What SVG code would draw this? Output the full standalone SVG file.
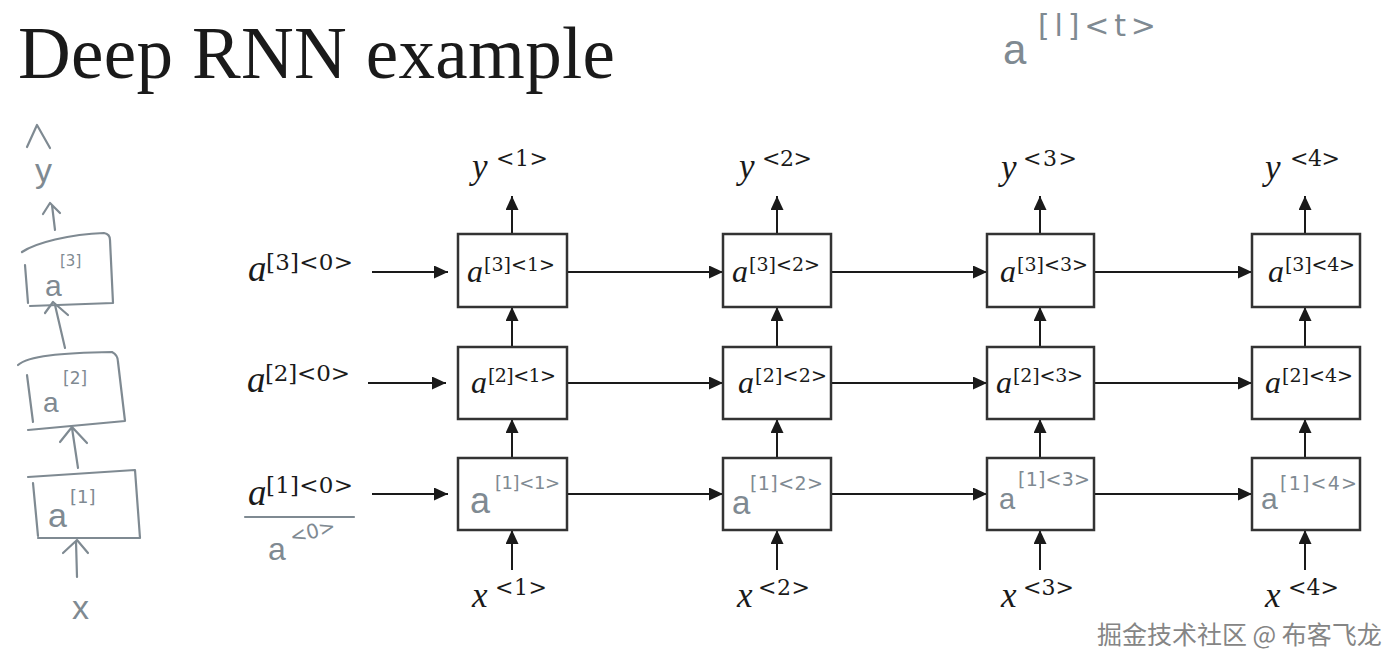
<svg xmlns="http://www.w3.org/2000/svg" width="1400" height="668" viewBox="0 0 1400 668">
<defs>
<marker id="ah" markerUnits="userSpaceOnUse" markerWidth="14" markerHeight="13" refX="14" refY="6.5" orient="auto">
<path d="M0,0 L14,6.5 L0,13 z" fill="#1a1a1a"/>
</marker>
<style>
.box{fill:#fff;stroke:#333;stroke-width:2.5}
.conn{stroke:#1a1a1a;stroke-width:2;fill:none;marker-end:url(#ah)}
.b{font-family:"Liberation Serif",serif;font-style:italic;font-size:32px;fill:#1a1a1a}
.t{font-family:"Liberation Serif",serif;font-style:italic;font-size:35px;fill:#1a1a1a}
.s{font-family:"DejaVu Serif",serif;font-size:19px;fill:#1a1a1a}
.u{font-family:"DejaVu Serif",serif;font-size:22px;fill:#1a1a1a}
.lb{font-family:"Liberation Serif",serif;font-style:italic;font-size:37px;fill:#1a1a1a}
.ls{font-family:"DejaVu Serif",serif;font-size:23px;fill:#1a1a1a}
.hw{font-family:"Liberation Sans",sans-serif;fill:#7f8a92}
.hx{font-family:"DejaVu Sans",sans-serif;fill:#7f8a92}
.hs{stroke:#7f8a92;stroke-width:2.2;fill:none;stroke-linecap:round;stroke-linejoin:round}
.wm{font-family:"Noto Sans CJK SC",sans-serif;font-size:25px;fill:#858585;stroke:#fff;stroke-width:1.5;paint-order:stroke}
</style>
</defs>
<rect width="1400" height="668" fill="#fff"/>

<text x="18" y="78" font-family="Liberation Serif,serif" font-size="73" fill="#1a1a1a" textLength="597">Deep RNN example</text>

<g id="note-top">
<text class="hw" x="1003" y="64" font-size="42">a</text>
<text class="hx" x="1038" y="36" font-size="30" textLength="118">[l]&lt;t&gt;</text>
</g>

<g id="hand-stack">
<path class="hs" d="M27,147 L37,125 L50,148"/>
<text class="hw" x="35" y="182" font-size="34">y</text>
<path class="hs" d="M55,230 L52,205 M43,214 L50,203 L60,213"/>
<path class="hs" d="M22,252 C35,243 70,234 104,233 Q110,234 110,240 L113,303 L30,306 M25,265 L28,303"/>
<text class="hw" x="45" y="296" font-size="30">a</text>
<text class="hx" x="60" y="266" font-size="15">[3]</text>
<path class="hs" d="M65,348 L55,305 M45,313 L53,302 L68,315"/>
<path class="hs" d="M18,365 C28,356 60,353 112,352 Q118,355 118,362 L125,421 L28,430 M27,375 L33,422"/>
<text class="hw" x="43" y="412" font-size="28">a</text>
<text class="hx" x="63" y="384" font-size="17">[2]</text>
<path class="hs" d="M78,468 L72,428 M60,442 L72,427 L87,443"/>
<path class="hs" d="M28,477 L135,470 L140,538 L38,538 M33,483 L38,536"/>
<text class="hw" x="48" y="527" font-size="34">a</text>
<text class="hx" x="70" y="503" font-size="18">[1]</text>
<path class="hs" d="M77,577 L76,541 M63,553 L77,540 L88,553"/>
<text class="hw" x="72" y="619" font-size="34">x</text>
</g>

<g id="connectors">
<line class="conn" x1="372" y1="272" x2="448" y2="272"/>
<line class="conn" x1="368" y1="383" x2="446" y2="383"/>
<line class="conn" x1="372" y1="494" x2="448" y2="494"/>
<line class="conn" x1="567" y1="272" x2="723" y2="272"/>
<line class="conn" x1="831" y1="272" x2="987" y2="272"/>
<line class="conn" x1="1094" y1="272" x2="1252" y2="272"/>
<line class="conn" x1="567" y1="383" x2="723" y2="383"/>
<line class="conn" x1="831" y1="383" x2="987" y2="383"/>
<line class="conn" x1="1094" y1="383" x2="1252" y2="383"/>
<line class="conn" x1="567" y1="494" x2="723" y2="494"/>
<line class="conn" x1="831" y1="494" x2="987" y2="494"/>
<line class="conn" x1="1094" y1="494" x2="1252" y2="494"/>
<line class="conn" x1="512" y1="234" x2="512" y2="196"/>
<line class="conn" x1="777" y1="234" x2="777" y2="196"/>
<line class="conn" x1="1040" y1="234" x2="1040" y2="196"/>
<line class="conn" x1="1305" y1="234" x2="1305" y2="196"/>
<line class="conn" x1="512" y1="347" x2="512" y2="307"/>
<line class="conn" x1="777" y1="347" x2="777" y2="307"/>
<line class="conn" x1="1040" y1="347" x2="1040" y2="307"/>
<line class="conn" x1="1305" y1="347" x2="1305" y2="307"/>
<line class="conn" x1="512" y1="458" x2="512" y2="419"/>
<line class="conn" x1="777" y1="458" x2="777" y2="419"/>
<line class="conn" x1="1040" y1="458" x2="1040" y2="419"/>
<line class="conn" x1="1305" y1="458" x2="1305" y2="419"/>
<line class="conn" x1="512" y1="570" x2="512" y2="530"/>
<line class="conn" x1="777" y1="570" x2="777" y2="530"/>
<line class="conn" x1="1040" y1="570" x2="1040" y2="530"/>
<line class="conn" x1="1305" y1="570" x2="1305" y2="530"/>
</g>

<g id="init-a3"><text class="lb" x="248" y="281">a</text><text class="ls" x="266" y="270" textLength="87">[3]&lt;0&gt;</text></g>
<g id="init-a2"><text class="lb" x="247" y="392">a</text><text class="ls" x="265" y="381" textLength="85">[2]&lt;0&gt;</text></g>
<g id="init-a1"><text class="lb" x="248" y="505">a</text><text class="ls" x="266" y="493" textLength="87">[1]&lt;0&gt;</text>
<line class="hs" x1="245" y1="517" x2="354" y2="517" stroke-width="3"/>
<text class="hw" x="268" y="560" font-size="32">a</text>
<text class="hx" x="292" y="544" font-size="20" transform="rotate(-15 292 544)">&lt;0&gt;</text>
</g>

<g id="a3-1"><rect class="box" x="458" y="234" width="109" height="73"/><text class="b" x="467" y="282">a</text><text class="s" x="484" y="271" textLength="71">[3]&lt;1&gt;</text></g>
<g id="a3-2"><rect class="box" x="723" y="234" width="108" height="73"/><text class="b" x="732" y="282">a</text><text class="s" x="749" y="271" textLength="71">[3]&lt;2&gt;</text></g>
<g id="a3-3"><rect class="box" x="987" y="234" width="107" height="73"/><text class="b" x="1000" y="282">a</text><text class="s" x="1017" y="271" textLength="71">[3]&lt;3&gt;</text></g>
<g id="a3-4"><rect class="box" x="1252" y="234" width="108" height="73"/><text class="b" x="1268" y="282">a</text><text class="s" x="1285" y="271" textLength="70">[3]&lt;4&gt;</text></g>

<g id="a2-1"><rect class="box" x="458" y="347" width="109" height="72"/><text class="b" x="471" y="393">a</text><text class="s" x="488" y="382" textLength="68">[2]&lt;1&gt;</text></g>
<g id="a2-2"><rect class="box" x="723" y="347" width="108" height="72"/><text class="b" x="738" y="393">a</text><text class="s" x="755" y="382" textLength="72">[2]&lt;2&gt;</text></g>
<g id="a2-3"><rect class="box" x="987" y="347" width="107" height="72"/><text class="b" x="996" y="393">a</text><text class="s" x="1013" y="382" textLength="70">[2]&lt;3&gt;</text></g>
<g id="a2-4"><rect class="box" x="1252" y="347" width="108" height="72"/><text class="b" x="1265" y="393">a</text><text class="s" x="1282" y="382" textLength="71">[2]&lt;4&gt;</text></g>

<g id="a1-1"><rect class="box" x="458" y="458" width="109" height="72"/><text class="hw" x="470" y="513" font-size="36">a</text><text class="hx" x="495" y="489" font-size="18" textLength="65">[1]&lt;1&gt;</text></g>
<g id="a1-2"><rect class="box" x="723" y="458" width="108" height="72"/><text class="hw" x="732" y="514" font-size="33">a</text><text class="hx" x="750" y="490" font-size="19" textLength="73">[1]&lt;2&gt;</text></g>
<g id="a1-3"><rect class="box" x="987" y="458" width="107" height="72"/><text class="hw" x="999" y="509" font-size="29">a</text><text class="hx" x="1018" y="486" font-size="19" textLength="72">[1]&lt;3&gt;</text></g>
<g id="a1-4"><rect class="box" x="1252" y="458" width="108" height="72"/><text class="hw" x="1261" y="509" font-size="30">a</text><text class="hx" x="1280" y="490" font-size="19" textLength="77">[1]&lt;4&gt;</text></g>

<g id="y1"><text class="t" x="472" y="178">y</text><text class="u" x="496" y="166" textLength="52">&lt;1&gt;</text></g>
<g id="y2"><text class="t" x="739" y="178">y</text><text class="u" x="762" y="166" textLength="50">&lt;2&gt;</text></g>
<g id="y3"><text class="t" x="1001" y="179">y</text><text class="u" x="1023" y="166" textLength="54">&lt;3&gt;</text></g>
<g id="y4"><text class="t" x="1265" y="179">y</text><text class="u" x="1290" y="166" textLength="50">&lt;4&gt;</text></g>

<g id="x1"><text class="t" x="472" y="607">x</text><text class="u" x="495" y="595" textLength="52">&lt;1&gt;</text></g>
<g id="x2"><text class="t" x="737" y="607">x</text><text class="u" x="758" y="595" textLength="52">&lt;2&gt;</text></g>
<g id="x3"><text class="t" x="1001" y="607">x</text><text class="u" x="1023" y="595" textLength="51">&lt;3&gt;</text></g>
<g id="x4"><text class="t" x="1265" y="607">x</text><text class="u" x="1288" y="595" textLength="51">&lt;4&gt;</text></g>

<text class="wm" x="1097" y="644">掘金技术社区 @ 布客飞龙</text>
</svg>
